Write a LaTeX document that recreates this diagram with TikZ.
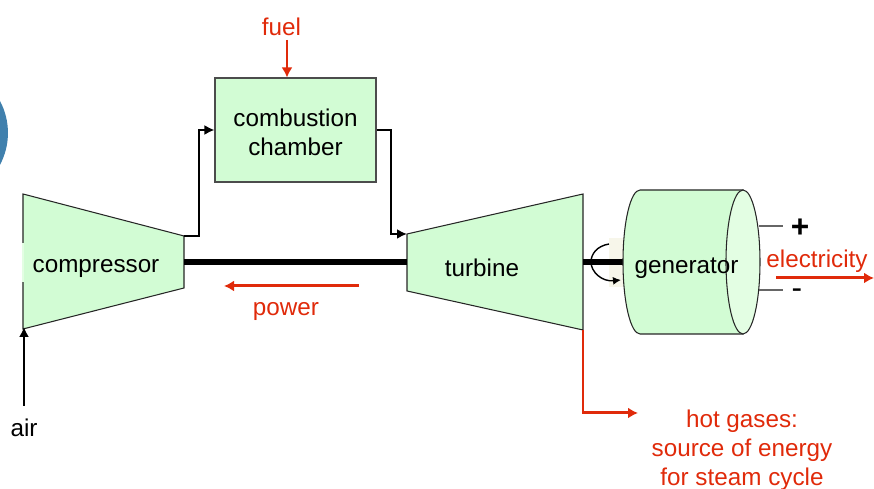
\documentclass[tikz,border=0pt]{standalone}
\usepackage{fontspec}
\setmainfont{Liberation Sans}
\usetikzlibrary{arrows.meta}
\definecolor{partgreen}{HTML}{D2FCD4}
\definecolor{partlight}{HTML}{E3FEE3}
\definecolor{gasred}{HTML}{E02A0A}
\definecolor{dotblue}{HTML}{4080AD}
\definecolor{patchcream}{HTML}{F7F6EA}
\tikzset{
	part/.style={draw=black!85, fill=partgreen, line width=0.3pt},
	lbl/.style={inner sep=0pt, align=center, font=\fontsize{6.9}{8.2}\selectfont},
	redlbl/.style={lbl, text=gasred},
	flow/.style={line width=0.6pt, -{Latex[length=0.1cm, width=0.1cm]}},
	redflow/.style={draw=gasred, line width=0.85pt, -{Latex[length=0.1cm, width=0.11cm]}},
	shaft/.style={line width=1.6pt},
	lead/.style={draw=black!60, line width=0.4pt}
}
\begin{document}
\begin{tikzpicture}
	\useasboundingbox (0, 0) rectangle (8.74, -4.89);
	\fill[dotblue] (0, -1.01) arc[start angle=28, end angle=-28, radius=0.68];
	% corners
	\coordinate (C1)at(0.23, -1.94);
	\coordinate (C2)at(1.84, -2.36);
	\coordinate (C3)at(1.84, -2.88);
	\coordinate (C4)at(0.23, -3.29);
	\coordinate (T1)at(4.07, -2.34);
	\coordinate (T2)at(5.83, -1.94);
	\coordinate (T3)at(5.83, -3.30);
	\coordinate (T4)at(4.07, -2.91);
	\draw[part] (C1) -- (C2) -- (C3) -- (C4) -- cycle;
	\draw[part] (T1) -- (T2) -- (T3) -- (T4) -- cycle;
	\draw[draw=partlight, line width=0.5pt] (0.23, -2.43) -- (0.23, -2.82);
	\node[part, draw=black!70, minimum width=1.61cm, minimum height=1.04cm, inner sep=0pt] (chamber)at(2.955, -1.30) {};
	\node[lbl] (chamberlbl)at(2.955, -1.32) {combustion\\chamber};
	\node[lbl] (compressor)at(0.96, -2.69) {compressor};
	\node[lbl] (turbine)at(4.82, -2.68) {turbine};
	% shafts
	\coordinate (S1)at(1.84, -2.62);
	\coordinate (S2)at(4.07, -2.62);
	\coordinate (S3)at(5.83, -2.62);
	\coordinate (S4)at(6.23, -2.62);
	\fill[patchcream] (6.09, -2.38) rectangle (6.23, -2.87);
	\draw[shaft] (S1) -- (S2);
	\draw[shaft] (S3) -- (S4);
	\draw[line width=0.4pt, -{Latex[length=0.08cm, width=0.08cm]}] (6.09, -2.44) .. controls (5.97, -2.46) and (5.91, -2.54) .. (5.91, -2.62) .. controls (5.91, -2.72) and (6.02, -2.82) .. (6.21, -2.80);
	% generator
	\draw[part] (6.40, -1.90) -- (7.43, -1.90) -- (7.43, -3.34) -- (6.40, -3.34) arc[start angle=270, end angle=90, x radius=0.17, y radius=0.72];
	\draw[part, fill=partlight] (7.43, -2.62) ellipse[x radius=0.17, y radius=0.72];
	\node[lbl] (generator)at(6.865, -2.68) {generator};
	\coordinate (plusend)at(7.83, -2.26);
	\coordinate (plusstart)at(7.59, -2.26);
	\coordinate (minusend)at(7.83, -2.90);
	\coordinate (minusstart)at(7.59, -2.90);
	\draw[lead] (plusstart) -- (plusend);
	\draw[lead] (minusstart) -- (minusend);
	\node[lbl, font=\fontsize{9}{9}\selectfont\bfseries] (plus)at(8.00, -2.28) {+};
	\node[lbl, font=\fontsize{9}{9}\selectfont] (minus)at(7.97, -2.94) {-};
	% black flows
	\coordinate (airstart)at(0.24, -4.06);
	\coordinate (airend)at(0.24, -3.27);
	\node[lbl] (air)at(0.24, -4.28) {air};
	\draw[flow] (airstart) -- (airend);
	\draw[flow] (C2) -- (1.99, -2.36) -- (1.99, -1.30) -- (chamber.west);
	\draw[flow] (chamber.east) -- (3.91, -1.30) -- (3.91, -2.34) -- (T1);
	% red flows
	\node[redlbl] (fuel)at(2.815, -0.27) {fuel};
	\coordinate (fuelstart)at(2.87, -0.40);
	\draw[redflow] (fuelstart) -- (fuelstart |- chamber.north);
	\coordinate (powerstart)at(3.59, -2.86);
	\coordinate (powerend)at(2.24, -2.86);
	\draw[redflow] (powerstart) -- (powerend);
	\node[redlbl] (power)at(2.86, -3.12) {power};
	\node[redlbl] (electricity)at(8.17, -2.61) {electricity};
	\coordinate (elecstart)at(7.76, -2.78);
	\coordinate (elecend)at(8.74, -2.78);
	\draw[redflow] (elecstart) -- (elecend);
	\coordinate (gasend)at(6.38, -4.13);
	\draw[redflow] (T3) -- (5.83, -4.13) -- (gasend);
	\node[redlbl] (gases)at(7.42, -4.50) {hot gases:\\source of energy\\for steam cycle};
\end{tikzpicture}
\end{document}
